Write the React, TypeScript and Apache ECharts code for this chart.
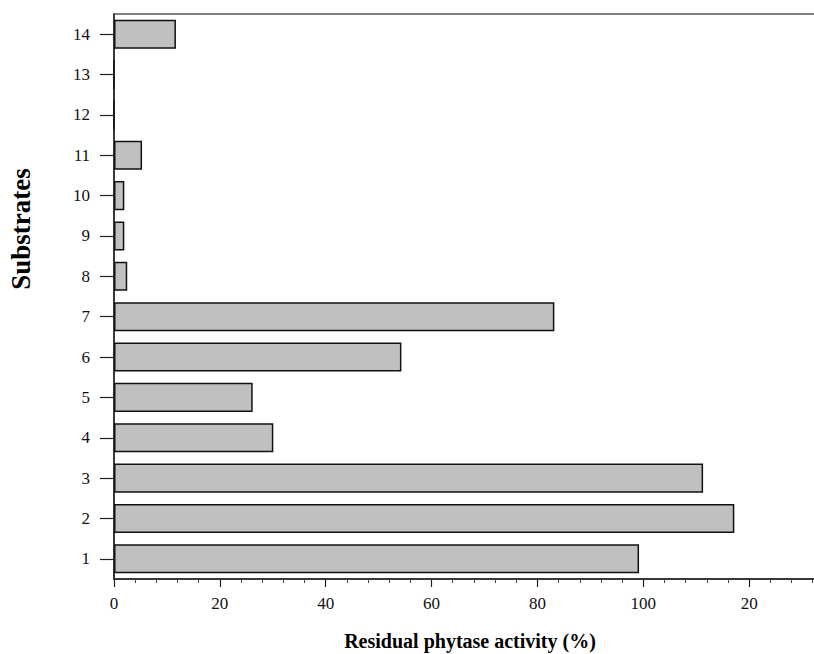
import React, { useEffect, useRef } from "react";
import * as echarts from "echarts";

const categories = ["1", "2", "3", "4", "5", "6", "7", "8", "9", "10", "11", "12", "13", "14"];
const residualActivity = [99.2, 117.2, 111.3, 30.1, 26.2, 54.3, 83.2, 2.5, 1.95, 1.95, 5.3, 0, 0, 11.7];
const xTickLabels = ["0", "20", "40", "60", "80", "100", "20"];
const xTitle = "Residual phytase activity (%)";
const yTitle = "Substrates";

const FONT = "'Liberation Serif', 'DejaVu Serif', serif";

export default function App() {
  const ref = useRef<HTMLDivElement>(null);
  useEffect(() => {
    if (!ref.current) return;
    const chart = echarts.init(ref.current, undefined, { renderer: "svg" });
    chart.setOption({
      animation: false,
      backgroundColor: "#ffffff",
      grid: {
        left: 114,
        top: 14,
        height: 565,
        width: 741,
        outerBoundsMode: "none",
        show: true,
        borderColor: "#555555",
        borderWidth: 1.5,
        backgroundColor: "transparent",
      },
      xAxis: {
        type: "value",
        min: 0,
        max: 140,
        interval: 20,
        axisLine: { show: true, lineStyle: { color: "#222222", width: 1.5 } },
        axisTick: { show: true, inside: false, length: 8, lineStyle: { color: "#222222", width: 1.2 } },
        minorTick: { show: true, splitNumber: 5, length: 4, lineStyle: { color: "#444444", width: 1 } },
        splitLine: { show: false },
        axisLabel: {
          margin: 16,
          fontFamily: FONT,
          fontSize: 17,
          color: "#111111",
          formatter: (v: number) => {
            const i = Math.round(v / 20);
            return xTickLabels[i] ?? "";
          },
        },
      },
      yAxis: {
        type: "category",
        data: categories,
        axisLine: { show: true, lineStyle: { color: "#222222", width: 1.5 } },
        axisTick: { show: true, alignWithLabel: true, inside: false, length: 14, lineStyle: { color: "#222222", width: 1.2 } },
        splitLine: { show: false },
        axisLabel: {
          margin: 24,
          fontFamily: FONT,
          fontSize: 17,
          color: "#111111",
        },
      },
      series: [
        {
          type: "bar",
          data: residualActivity,
          barWidth: "72%",
          itemStyle: { color: "#c0c0c0", borderColor: "#111111", borderWidth: 1.5 },
        },
      ],
      graphic: [
        {
          type: "text",
          x: 470,
          y: 641,
          style: {
            text: xTitle,
            fontFamily: FONT,
            fontSize: 20,
            fontWeight: "bold",
            fill: "#000000",
            align: "center",
            verticalAlign: "middle",
          },
        },
        {
          type: "text",
          x: 21,
          y: 229,
          rotation: Math.PI / 2,
          style: {
            text: yTitle,
            fontFamily: FONT,
            fontSize: 27,
            fontWeight: "bold",
            fill: "#000000",
            align: "center",
            verticalAlign: "middle",
          },
        },
      ],
    });
    return () => chart.dispose();
  }, []);
  return (
    <div
      style={{
        position: "absolute",
        left: 0,
        top: 0,
        width: 814,
        height: 654,
        overflow: "hidden",
        background: "#ffffff",
      }}
    >
      <div ref={ref} style={{ width: 870, height: 654 }} />
    </div>
  );
}
